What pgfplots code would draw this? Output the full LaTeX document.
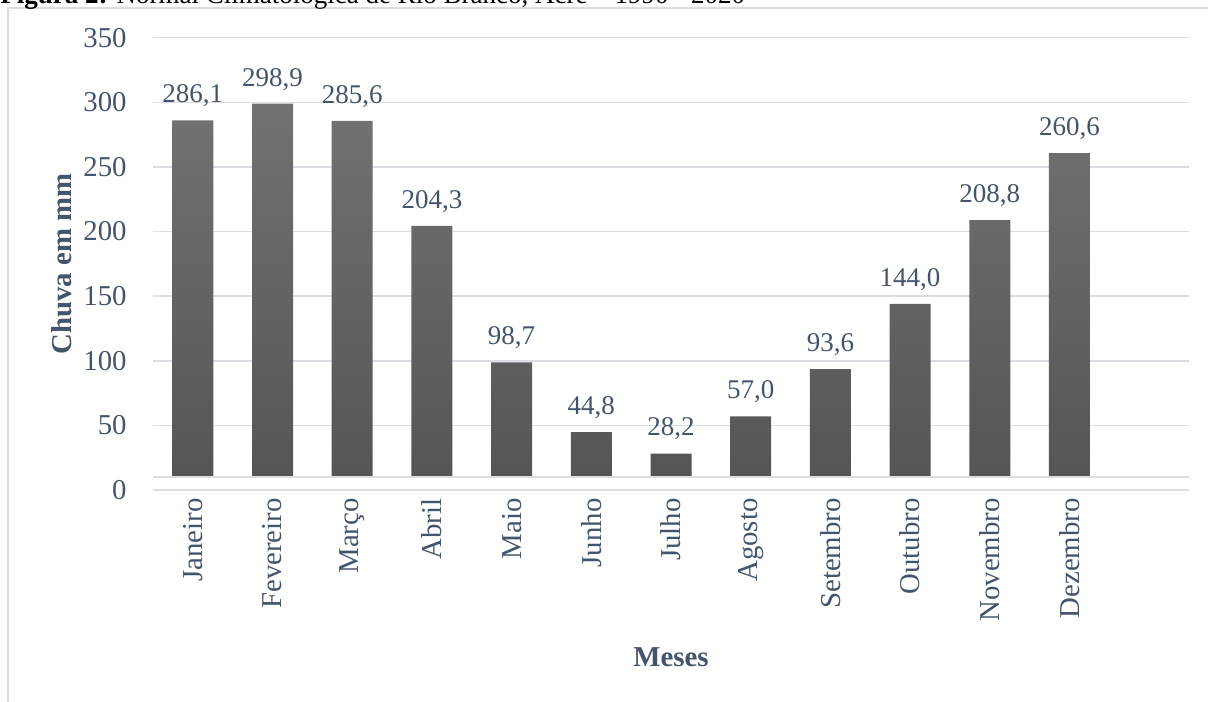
\documentclass[border=0pt]{standalone}
\usepackage{pgfplots}
\pgfplotsset{compat=1.18}
\usepackage{fontspec}
\setmainfont{Liberation Serif}
\definecolor{txt}{HTML}{44546A}
\definecolor{grd}{HTML}{DADEE4}
\definecolor{bartop}{HTML}{727272}
\definecolor{barbot}{HTML}{545454}
\begin{document}
\begin{tikzpicture}
\useasboundingbox (-76.5pt,-105.5pt) rectangle (527.5pt,245pt);
\draw[grd, line width=0.8pt] (-72.5pt,-110pt) -- (-72.5pt,241pt) -- (530pt,241pt);
\node[anchor=base west, inner sep=0pt, font=\fontsize{13.5}{16}\selectfont] at (-76.5pt,243.3pt) {\textbf{Figura 2:} Normal Climatológica de Rio Branco, Acre – 1990 - 2020};
\begin{axis}[
  at={(0pt,0pt)}, anchor=south west, scale only axis,
  width=518pt, height=226.15pt,
  xmin=-0.5, xmax=12.5, ymin=0, ymax=350,
  ytick={0,50,...,350},
  xtick={0,...,11},
  xticklabels={Janeiro,Fevereiro,Março,Abril,Maio,Junho,Julho,Agosto,Setembro,Outubro,Novembro,Dezembro},
  /pgf/number format/assume math mode=true,
  axis line style={draw=none},
  tick style={draw=none},
  ymajorgrids,
  major grid style={grd, line width=0.75pt},
  tick label style={font=\fontsize{14.4}{17}\selectfont, text=txt},
  yticklabel style={inner sep=0pt},
  yticklabel shift=13pt,
  xticklabel style={rotate=90, anchor=east, inner sep=0pt},
  xticklabel shift=4pt,
  every axis y label/.style={at={(axis description cs:-0.0782,0.5)}, rotate=90, anchor=base},
  every axis x label/.style={at={(axis description cs:0.5,-0.3913)}, anchor=base},
  label style={font=\fontsize{14.4}{17}\selectfont\bfseries, text=txt},
  ylabel={Chuva em mm},
  xlabel={Meses},
  nodes near coords={\pgfmathprintnumber[fixed, fixed zerofill, precision=1, use comma, assume math mode=true]{\pgfplotspointmeta}},
  nodes near coords style={anchor=base, inner sep=0pt, yshift=8.8pt, font=\fontsize{13.5}{16}\selectfont, text=txt},
]
\addplot[ybar, bar width=20.5pt, draw=none, top color=bartop, bottom color=barbot] coordinates {
(0,286.1) (1,298.9) (2,285.6) (3,204.3) (4,98.7) (5,44.8)
(6,28.2) (7,57.0) (8,93.6) (9,144.0) (10,208.8) (11,260.6)
};
\fill[white] (axis cs:-0.5,-2) rectangle (axis cs:12.5,10.05);
\draw[grd, line width=0.75pt] (axis cs:-0.5,10.05) -- (axis cs:12.5,10.05);
\draw[grd, line width=0.75pt] (axis cs:-0.5,0) -- (axis cs:12.5,0);
\end{axis}
\end{tikzpicture}
\end{document}
